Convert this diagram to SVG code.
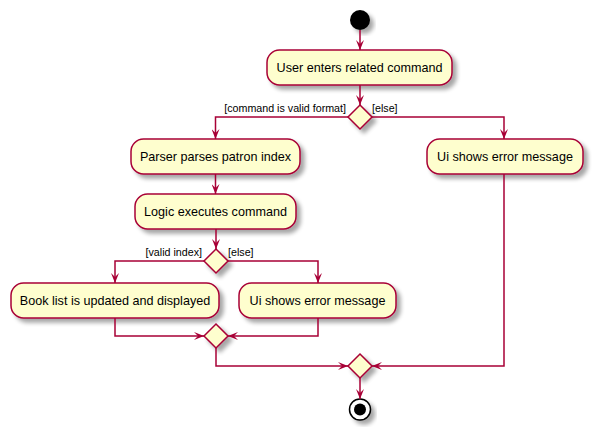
<svg xmlns="http://www.w3.org/2000/svg" width="599" height="436" viewBox="0 0 599 436">
<style>
.act{fill:#FEFECE;stroke:#A80036;stroke-width:1.5;filter:url(#sh)}
.dec{fill:#FEFECE;stroke:#A80036;stroke-width:1.5;filter:url(#sh)}
.lbl{font-family:"Liberation Sans",Arial,sans-serif;font-size:12.6px;fill:#000;text-anchor:middle}
.grd{font-family:"Liberation Sans",Arial,sans-serif;font-size:10.7px;fill:#000}
.edge{fill:none;stroke:#A80036;stroke-width:1.5;marker-end:url(#ah)}
</style>
<defs>
<filter id="sh" x="-20%" y="-20%" width="150%" height="150%">
<feGaussianBlur in="SourceAlpha" stdDeviation="2"/>
<feOffset dx="4" dy="4" result="b"/>
<feComponentTransfer><feFuncA type="linear" slope="0.35"/></feComponentTransfer>
<feMerge><feMergeNode/><feMergeNode in="SourceGraphic"/></feMerge>
</filter>
<marker id="ah" viewBox="0 0 10 8" refX="10" refY="4" markerWidth="10" markerHeight="8" markerUnits="userSpaceOnUse" orient="auto">
<path d="M0,0 L10,4 L0,8 L4,4 Z" fill="#A80036"/>
</marker>
</defs>
<g id="start"><circle cx="360" cy="20" r="10" fill="#000" filter="url(#sh)"/></g>
<g id="n1"><rect class="act" x="267" y="50" width="185" height="35" rx="12.5"/><text class="lbl" x="359.5" y="72">User enters related command</text></g>
<g id="d1"><polygon class="dec" points="360,105 372,117 360,129 348,117"/></g>
<g id="n2"><rect class="act" x="131" y="139" width="169" height="35" rx="12.5"/><text class="lbl" x="215.5" y="161">Parser parses patron index</text></g>
<g id="n3"><rect class="act" x="427" y="139" width="156" height="35" rx="12.5"/><text class="lbl" x="505" y="161">Ui shows error message</text></g>
<g id="n4"><rect class="act" x="135" y="194" width="161" height="35" rx="12.5"/><text class="lbl" x="215.5" y="216">Logic executes command</text></g>
<g id="d2"><polygon class="dec" points="216,249 228,261 216,273 204,261"/></g>
<g id="n5"><rect class="act" x="11" y="283" width="208" height="35" rx="12.5"/><text class="lbl" x="115" y="305">Book list is updated and displayed</text></g>
<g id="n6"><rect class="act" x="239" y="283" width="157" height="35" rx="12.5"/><text class="lbl" x="317.5" y="305">Ui shows error message</text></g>
<g id="m2"><polygon class="dec" points="216,324 228,336 216,348 204,336"/></g>
<g id="m1"><polygon class="dec" points="360,354 372,366 360,378 348,366"/></g>
<g id="end"><circle cx="360" cy="409.5" r="10.5" fill="#FFF" stroke="#000" stroke-width="1.5" filter="url(#sh)"/><circle cx="360" cy="409.5" r="6" fill="#000"/></g>
<g id="labels">
<text class="grd" x="346" y="112" text-anchor="end">[command is valid format]</text>
<text class="grd" x="372" y="112">[else]</text>
<text class="grd" x="202" y="256" text-anchor="end">[valid index]</text>
<text class="grd" x="228" y="256">[else]</text>
</g>
<g id="connectors">
<path class="edge" d="M360,30 L360,50"/>
<path class="edge" d="M360,85 L360,105"/>
<path class="edge" d="M348,117 L215.5,117 L215.5,139"/>
<path class="edge" d="M372,117 L504,117 L504,139"/>
<path class="edge" d="M215.5,174 L215.5,194"/>
<path class="edge" d="M216,229 L216,249"/>
<path class="edge" d="M204,261 L115,261 L115,283"/>
<path class="edge" d="M228,261 L318,261 L318,283"/>
<path class="edge" d="M115,318 L115,336 L204,336"/>
<path class="edge" d="M318,318 L318,336 L228,336"/>
<path class="edge" d="M216,348 L216,366 L348,366"/>
<path class="edge" d="M504,174 L504,366 L372,366"/>
<path class="edge" d="M360,378 L360,399"/>
</g>
</svg>
